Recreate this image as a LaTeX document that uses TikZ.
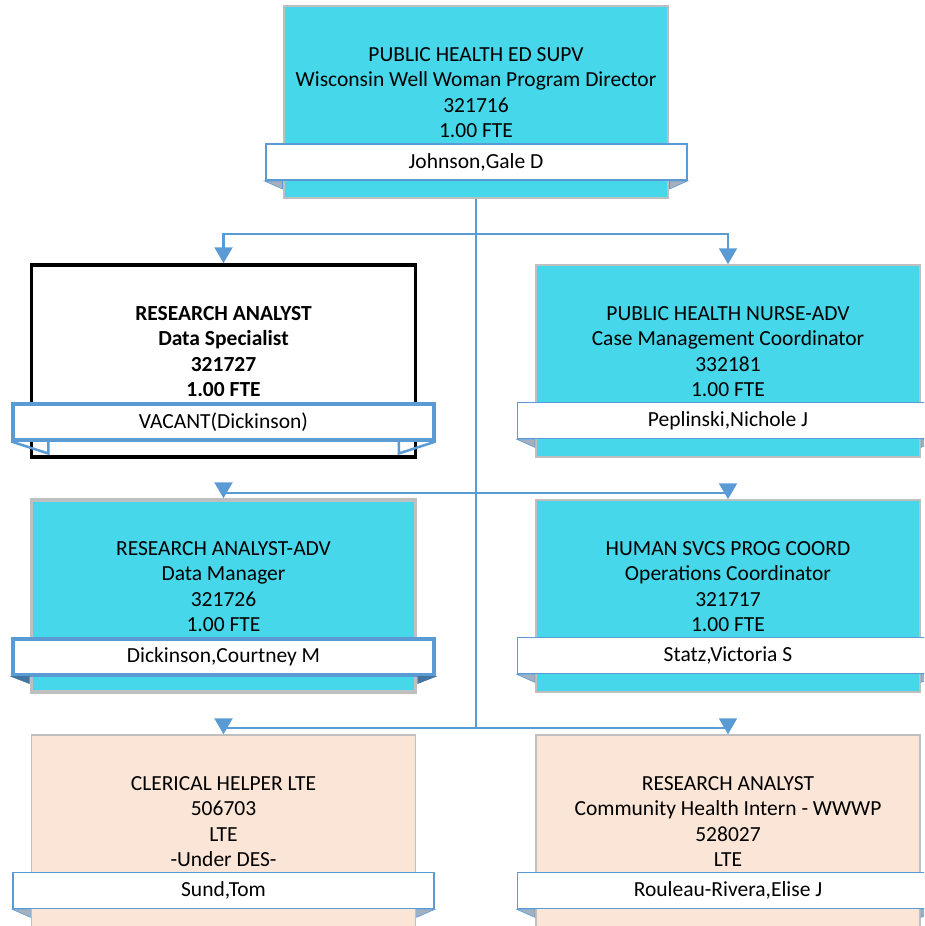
\documentclass[tikz,border=0pt]{standalone}
\usepackage{fontspec}
\setmainfont{Carlito}
\usetikzlibrary{arrows.meta}
\definecolor{posfill}{RGB}{71,215,234}
\definecolor{ltefill}{RGB}{251,229,214}
\definecolor{linkblue}{RGB}{91,155,213}
\definecolor{edgegray}{RGB}{191,191,191}
\definecolor{foldgray}{RGB}{165,176,190}

\begin{document}
\begin{tikzpicture}[x=1pt,y=-1pt,>={Triangle[width=18pt,length=16pt]},
  every node/.style={inner sep=0pt,font=\fontsize{21.5pt}{25.5pt}\selectfont},
  post/.style={draw=edgegray,line width=2pt,fill=posfill,minimum width=384pt,minimum height=192pt},
  ltepost/.style={post,fill=ltefill,line width=1.5pt},
  title/.style={align=center,yshift=9.5pt},
  band/.style={draw=linkblue,line width=1.2pt,fill=white,minimum width=421pt,minimum height=36pt,yshift=37pt},
  link/.style={draw=linkblue,line width=2.2pt},
  fold/.style={fill=foldgray,draw=linkblue,line width=0.6pt}]
  \useasboundingbox (0,0) rectangle (924,926);
  \clip (0,0) rectangle (924,926);

  % supervisor
  \node[post] (dir) at (476,102) {};
  \node[title] (dirT) at (dir.center) {PUBLIC HEALTH ED SUPV\\Wisconsin Well Woman Program Director\\321716\\1.00 FTE};
  \node[band,line width=2pt] (dirN) at (dir.south) {Johnson,Gale D};

  % first row
  \node[post,draw=black,line width=3.5pt,fill=white] (ra) at (223.5,361) {};
  \node[title,font=\fontsize{21.5pt}{25.5pt}\selectfont\bfseries] (raT) at (ra.center) {RESEARCH ANALYST\\Data Specialist\\321727\\1.00 FTE};
  \node[band,line width=3.5pt] (raN) at (ra.south) {VACANT(Dickinson)};

  \node[post,line width=1.5pt] (phn) at (728,361) {};
  \node[title] (phnT) at (phn.center) {PUBLIC HEALTH NURSE-ADV\\Case Management Coordinator\\332181\\1.00 FTE};
  \node[band] (phnN) at (phn.south) {Peplinski,Nichole J};

  % second row
  \node[post,line width=3.5pt] (rda) at (223.5,596) {};
  \node[title] (rdaT) at (rda.center) {RESEARCH ANALYST-ADV\\Data Manager\\321726\\1.00 FTE};
  \node[band,line width=3.5pt] (rdaN) at (rda.south) {Dickinson,Courtney M};

  \node[post,line width=1.5pt] (hsc) at (728,596) {};
  \node[title] (hscT) at (hsc.center) {HUMAN SVCS PROG COORD\\Operations Coordinator\\321717\\1.00 FTE};
  \node[band] (hscN) at (hsc.south) {Statz,Victoria S};

  % LTE row
  \node[ltepost] (clh) at (223.5,831) {};
  \node[title] (clhT) at (clh.center) {CLERICAL HELPER LTE\\506703\\LTE\\-Under DES-};
  \node[band] (clhN) at (clh.south) {Sund,Tom};

  \node[ltepost] (chi) at (728,831) {};
  \node[title] (chiT) at (chi.center) {RESEARCH ANALYST\\Community Health Intern - WWWP\\528027\\LTE};
  \node[band] (chiN) at (chi.south) {Rouleau-Rivera,Elise J};

  % folded band ends
  \foreach \n in {dirN,phnN,hscN,clhN,chiN} {
    \filldraw[fold] (\n.south west) -- ++(18,0) -- ++(0,8) -- cycle;
    \filldraw[fold] (\n.south east) -- ++(-18,0) -- ++(0,8) -- cycle;
  }
  \filldraw[fold,fill=linkblue!75!black,draw=linkblue!75!black] (rdaN.south west) -- ++(18,0) -- ++(0,7) -- cycle;
  \filldraw[fold,fill=linkblue!75!black,draw=linkblue!75!black] (rdaN.south east) -- ++(-18,0) -- ++(0,7) -- cycle;
  \draw[linkblue,line width=2.5pt] (raN.south west) -- ++(37,12) -- ++(0,-12);
  \draw[linkblue,line width=2.5pt] (raN.south east) -- ++(-37,12) -- ++(0,-12);

  % reporting lines
  \coordinate (j1) at (476,234);
  \coordinate (j2) at (476,493);
  \coordinate (j3) at (476,728);
  \draw[link] (dir.south) -- (j3);
  \draw[link,->] (j1) -| (ra.north);
  \draw[link,->] (j1) -| (phn.north);
  \draw[link,->] (j2) -| (rda.north);
  \draw[link,->] (j2) -| (hsc.north);
  \draw[link,->] (j3) -| (clh.north);
  \draw[link,->] (j3) -| (chi.north);
\end{tikzpicture}
\end{document}
